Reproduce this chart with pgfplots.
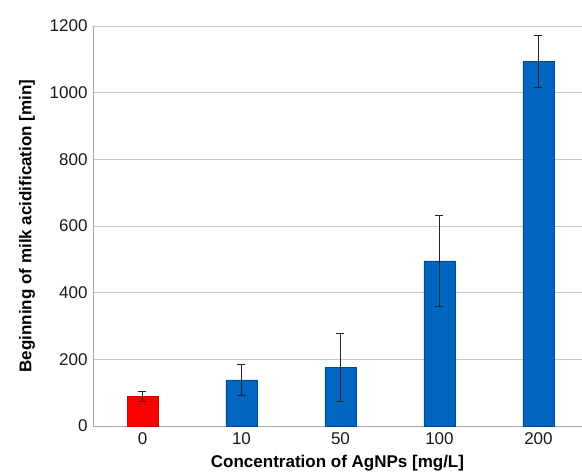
\documentclass[border=0pt]{standalone}
\usepackage{pgfplots}
\pgfplotsset{compat=1.18}
\usepackage{fontspec}
\setmainfont{Liberation Sans}
\definecolor{barblue}{RGB}{0,102,192}
\definecolor{barblueedge}{RGB}{0,75,150}
\definecolor{gridgray}{RGB}{200,200,200}
\begin{document}
\begin{tikzpicture}
\path[use as bounding box] (0,0) rectangle (582pt,474pt);
\begin{axis}[
  at={(93pt,48pt)}, anchor=south west,
  scale only axis, width=489pt, height=400pt,
  xmin=-0.5, xmax=4.44,
  ymin=0, ymax=1200,
  ytick={0,200,...,1200},
  xtick={0,1,2,3,4},
  xticklabels={0,10,50,100,200},
  axis x line*=bottom, axis y line*=left,
  axis line style={draw=gray!70, line width=0.9pt, -},
  ymajorgrids, grid style={gridgray, line width=0.9pt},
  major tick length=0pt,
  tick label style={font=\fontsize{17}{19}\selectfont, text=black!90},
  yticklabel style={xshift=-2pt},
  xticklabel style={yshift=-3pt},
  /pgf/number format/assume math mode=true,
  /pgf/number format/1000 sep={},
  xlabel={\textbf{Concentration of AgNPs [mg/L]}},
  ylabel={\textbf{Beginning of milk acidification [min]}},
  label style={font=\fontsize{17}{19}\selectfont},
  ylabel style={at={(axis description cs:-0.135,0.5)}, anchor=center},
  xlabel style={at={(axis description cs:0.5,0)}, anchor=center, yshift=-37pt},
  clip=false,
]
\addplot[ybar, bar width=31pt, fill=red, draw=red!80!black,
  error bars/.cd, y dir=both, y explicit, error bar style={black!85, line width=0.8pt}, error mark options={rotate=90, mark size=4pt, black!85, line width=0.8pt}]
  coordinates {(0,88) +- (0,15)};
\addplot[ybar, bar width=31pt, fill=barblue, draw=barblueedge,
  error bars/.cd, y dir=both, y explicit, error bar style={black!85, line width=0.8pt}, error mark options={rotate=90, mark size=4pt, black!85, line width=0.8pt}]
  coordinates {(1,138) +- (0,47) (2,176) +- (0,102) (3,495) +- (0,137) (4,1093) +- (0,78)};
\end{axis}
\end{tikzpicture}
\end{document}
